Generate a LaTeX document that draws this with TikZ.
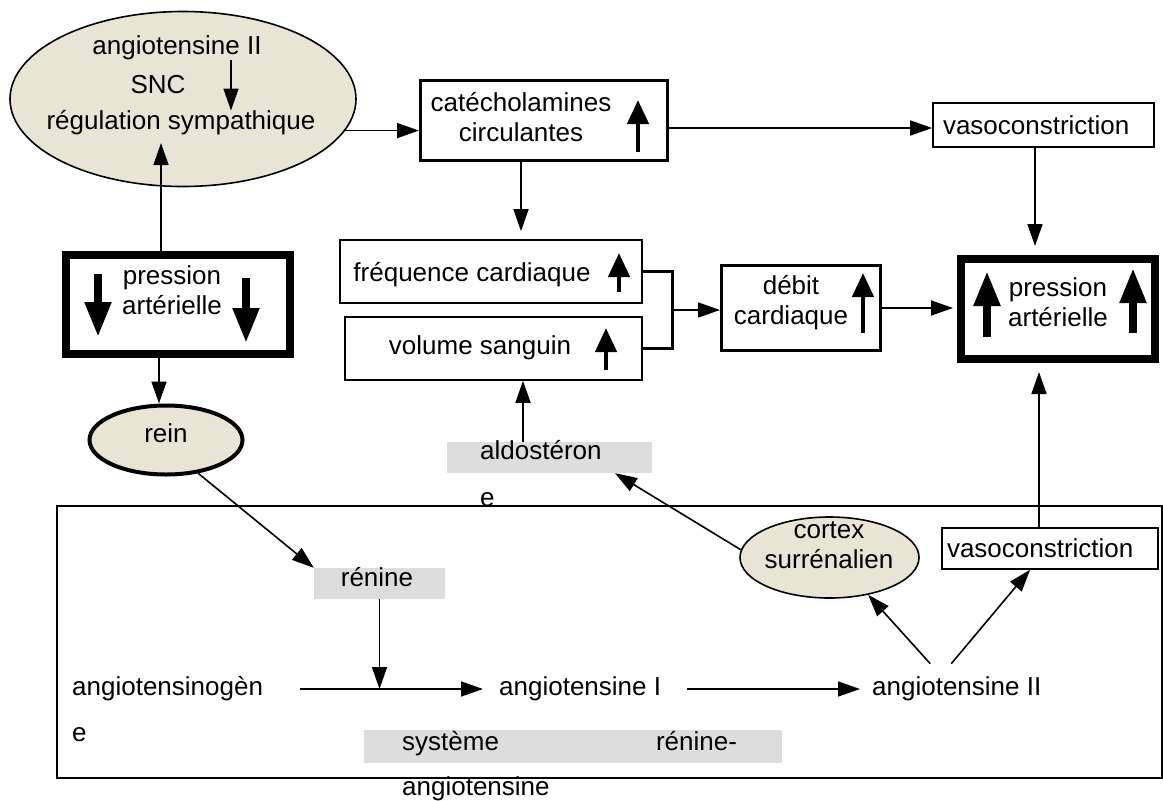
\documentclass[tikz,border=0pt]{standalone}
\usepackage{fontspec}
\setmainfont{Liberation Sans}
\usetikzlibrary{arrows.meta,shapes.geometric}
\definecolor{fondorgane}{RGB}{232,229,215}
\definecolor{grisfond}{RGB}{221,221,221}
\tikzset{
  arr/.style={line width=1.6pt,-{Triangle[length=22pt,width=15pt]}},
  fleche/.style={line width=4.5pt,-{Triangle[length=24pt,width=21pt]}},
  grossefleche/.style={line width=8pt,-{Triangle[length=35pt,width=25pt]}},
  cadre/.style={draw,line width=1.6pt},
  cadreb/.style={draw,line width=3pt},
  cadrec/.style={draw,line width=8pt},
  organe/.style={ellipse,draw,fill=fondorgane,line width=1.6pt},
  grise/.style={fill=grisfond},
  txt/.style={align=center}
}
\begin{document}
\begin{tikzpicture}[x=1pt,y=-1pt,font=\fontsize{26}{30}\selectfont]
\tikzstyle{every node}+=[inner sep=0pt]
\useasboundingbox (0,0) rectangle (1163,801);
\node[cadre,minimum width=1105pt,minimum height=272pt] (sysrect) at (609.5,642) {};
\node[organe,minimum width=346pt,minimum height=175pt] (snc) at (183,99) {};
\node[txt] (snc1) at (177,48) {angiotensine II};
\node[txt] (snc2) at (158,85) {SNC};
\node[txt] (snc3) at (181,123) {régulation sympathique};
\draw[arr] ([xshift=54pt]snc1.south) -- ([xshift=54pt]snc1.south |- snc3.north);
\node[cadreb,minimum width=247pt,minimum height=80pt] (catbox) at (544,120.5) {};
\node[txt] (cattxt) at (521,117.5) {catécholamines\\circulantes};
\draw[fleche] (638,152) -- (638,100);
\node[cadre,minimum width=221pt,minimum height=44pt,text width=201pt,align=left] (vasotop) at (1043.5,125) {vasoconstriction};
\node[cadre,minimum width=302pt,minimum height=63pt] (freq) at (491,271.5) {};
\node[txt] (freqtxt) at (472,275) {fréquence cardiaque};
\draw[fleche] (619,292) -- (619,253);
\node[cadre,minimum width=297pt,minimum height=63pt] (vol) at (493.5,348.5) {};
\node[txt] (voltxt) at (480,348) {volume sanguin};
\draw[fleche] (606,370) -- (606,328);
\node[cadreb,minimum width=159pt,minimum height=85pt] (debit) at (801,308) {};
\node[txt] (debittxt) at (791,302.5) {débit\\cardiaque};
\draw[fleche] (863,333) -- (863,273);
\node[cadrec,minimum width=194pt,minimum height=100pt] (papeak) at (1058,309) {};
\node[txt] (papeaktxt) at (1058,302.5) {pression\\artérielle};
\draw[grossefleche] (987,337) -- (987,271);
\draw[grossefleche] (1133,333) -- (1133,268);
\node[cadrec,minimum width=224pt,minimum height=99pt] (pabas) at (178,304.5) {};
\node[txt] (pabastxt) at (172,290) {pression\\artérielle};
\draw[grossefleche] (98,274) -- (98,337);
\draw[grossefleche] (246,278) -- (246,343);
\node[organe,line width=4pt,minimum width=153pt,minimum height=69pt] (rein) at (166,440) {};
\node[txt] (reintxt) at (166,433.5) {rein};
\node[grise,minimum width=205pt,minimum height=31pt] (aldo) at (549.5,457.5) {};
\node[txt,align=left,anchor=west] (aldotxt) at (480,474) {aldostéron\\[17pt]e};
\node[organe,minimum width=179pt,minimum height=81pt] (cortex) at (829.5,557.5) {};
\node[txt] (cortextxt) at (829,545) {cortex\\surrénalien};
\node[cadre,minimum width=216pt,minimum height=41pt,text width=206pt,align=left] (vasobas) at (1050,548.5) {vasoconstriction};
\node[grise,minimum width=131pt,minimum height=31pt] (renine) at (379.5,583.5) {};
\node[txt] (reninetxt) at (377,577) {rénine};
\node[txt,align=left,anchor=west] (agentxt) at (72,709.5) {angiotensinogèn\\[16pt]e};
\node[txt,anchor=west] (ang1) at (499,689) {angiotensine I};
\node[txt,anchor=west] (ang2) at (872,689) {angiotensine II};
\node[grise,minimum width=418pt,minimum height=33pt] (syst) at (573,746.5) {};
\node[txt,align=left,anchor=west] (systtxt) at (402,766) {système\hspace{157pt}rénine-\\[15pt]angiotensine};
\coordinate (snctip) at (161,143);
\coordinate (pahaut) at ([xshift=-17pt]pabas.north);
\draw[arr] (pahaut) -- (pahaut |- snctip);
\draw[arr] (snc.349) -- (snc.349 -| catbox.west);
\coordinate (catsortie) at ([yshift=-7.5pt]catbox.east);
\draw[arr] (catsortie) -- (catsortie -| vasotop.west);
\coordinate (vasosortie) at ([xshift=-8.5pt]vasotop.south);
\draw[arr,shorten >=9pt] (vasosortie) -- (vasosortie |- papeak.north);
\coordinate (catbas) at ([xshift=-23pt]catbox.south);
\draw[arr,shorten >=8pt] (catbas) -- (catbas |- freq.north);
\coordinate (brk) at (672,310);
\draw[line width=3pt] (freq.east) -| (brk) |- (vol.east);
\draw[arr] (brk) -- (brk -| debit.west);
\draw[arr,shorten >=4pt] (debit.east) -- (debit.east -| papeak.west);
\coordinate (pabassortie) at ([xshift=-19pt]pabas.south);
\draw[arr] (pabassortie) -- (pabassortie |- rein.north);
\draw[arr] (rein.314) -- (renine.north west);
\coordinate (jonction) at (379.5,689);
\draw[arr] (renine.south) -- (jonction);
\coordinate (agensortie) at (300,689);
\draw[arr] (agensortie) -- ([xshift=-16pt]ang1.west);
\draw[arr] ([xshift=26pt]ang1.east) -- ([xshift=-12pt]ang2.west);
\draw[arr] ([xshift=-26.5pt,yshift=13pt]ang2.north) -- (cortex.316);
\draw[arr] ([xshift=-5.5pt,yshift=13pt]ang2.north) -- ([xshift=-20pt]vasobas.south);
\coordinate (vasobashaut) at ([xshift=-11pt]vasobas.north);
\draw[arr,shorten >=9pt] (vasobashaut) -- (vasobashaut |- papeak.south);
\draw[arr] (cortex.175) -- ([xshift=65.5pt]aldo.south);
\coordinate (aldohaut) at ([xshift=-26.5pt]aldo.north);
\draw[arr] (aldohaut) -- (aldohaut |- vol.south);
\end{tikzpicture}
\end{document}
